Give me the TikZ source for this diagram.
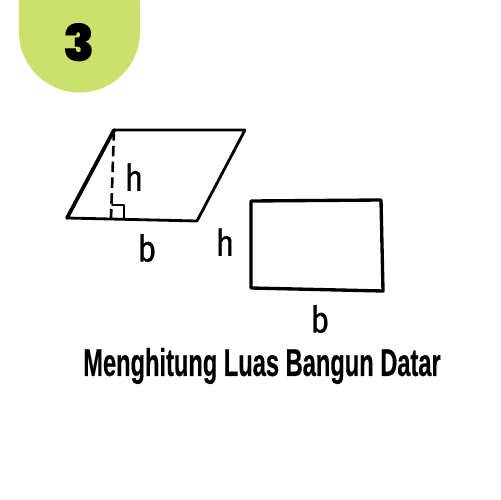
\documentclass[tikz,border=0pt]{standalone}
\usepackage{fontspec}
\usepackage{xcolor}
\setmainfont{Liberation Sans}
\newfontfamily\numfont[BoldFont={Poppins Black}]{Poppins}
\newfontfamily\handfont[FakeBold=0.6]{Fira Sans}
\newfontfamily\titlefont[FakeBold=0.5]{Liberation Sans Bold}
\definecolor{badgegreen}{HTML}{CBE16B}

\begin{document}
\begin{tikzpicture}[
        x=0.02cm, y=-0.02cm,
        outline/.style={line width=#1, line join=round, line cap=round},
        outline/.default=1.6pt,
        handlabel/.style={inner sep=0pt, xscale=0.85, font=\handfont\fontsize{21}{21}\selectfont},
        titlelabel/.style={inner sep=0pt, xscale=0.612, font=\titlefont\fontsize{22}{24}\selectfont}
    ]
    \useasboundingbox (0, 0) rectangle (500, 500);
    % badge
    \fill[badgegreen] (19, 0) -- (19, 32) arc[start angle=180, end angle=360, radius=1.21cm] -- (140, 0) -- cycle;
    \node[inner sep=0pt, font=\numfont\bfseries\fontsize{29}{29}\selectfont] (num) at (79, 43) {3};
    % parallelogram
    \coordinate (p1) at (114, 130);
    \coordinate (p2) at (245, 130);
    \coordinate (p3) at (197, 221);
    \coordinate (p4) at (67, 218);
    \coordinate (f1) at (111, 218);
    \draw[outline] (p1) -- (p2) -- (p3) -- (p4);
    \draw[outline=2.1pt] (p4) -- (p1);
    \draw[outline=1.5pt, line cap=butt, dash pattern=on 6pt off 3pt] (p1) -- (f1);
    \draw[outline=1.1pt] (112, 205) -- (124, 205) -- (124, 219);
    % rectangle
    \coordinate (r1) at (251, 201);
    \coordinate (r2) at (381, 200);
    \coordinate (r3) at (383, 291);
    \coordinate (r4) at (251, 288);
    \draw[outline=1.9pt] (r1) -- (r2) -- (r3) -- (r4) -- cycle;
    % labels
    \node[handlabel] (h1) at (134, 177) {h};
    \node[handlabel] (b1) at (147, 248) {b};
    \node[handlabel] (h2) at (225, 242) {h};
    \node[handlabel] (b2) at (320, 319) {b};
    \node[titlelabel] (title) at (262, 366) {Menghitung Luas Bangun Datar};
\end{tikzpicture}
\end{document}
